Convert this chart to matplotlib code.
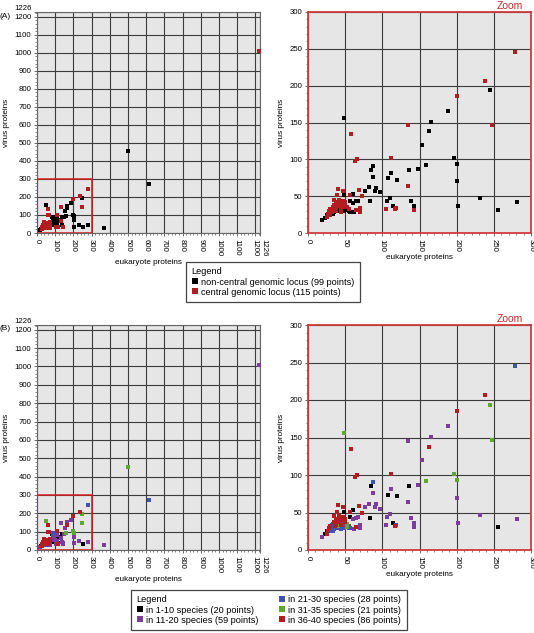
import numpy as np
import matplotlib
matplotlib.use('Agg')
import matplotlib.pyplot as plt
from matplotlib.lines import Line2D
from matplotlib.patches import Rectangle
from matplotlib.ticker import MultipleLocator

plt.rcParams['font.family'] = ['Liberation Sans', 'DejaVu Sans']

# points: eukaryote proteins, virus proteins, locus (0 non-central, 1 central),
# species group (0: 1-10, 1: 11-20, 2: 21-30, 3: 31-35, 4: 36-40)
euk = [503, 618, 367, 1221, 278, 238, 245, 200, 189, 166, 134, 247, 163, 154, 112, 196,
       159, 201, 136, 148, 112, 108, 120, 201, 134, 97, 110, 106, 232, 281, 138, 114,
       118, 117, 105, 143, 142, 202, 255, 49, 58, 63, 66, 88, 85, 87, 82, 77,
       92, 90, 83, 41, 47, 39, 69, 61, 56, 72, 49, 57, 60, 65, 67, 62,
       56, 46, 65, 70, 70, 25, 23, 26, 19, 30, 33, 35, 37, 40, 42, 44,
       46, 48, 38, 32, 28, 35, 42, 50, 52, 55, 45, 27, 30, 32, 34, 36,
       38, 35, 40, 42, 30, 28, 37, 44, 33, 39, 48, 52, 55, 36, 40, 43,
       38, 47, 50, 36, 41, 34, 31, 45]
vir = [453, 272, 28, 1009, 246, 207, 194, 186, 166, 151, 146, 147, 138, 120, 102, 102,
       92, 93, 86, 87, 82, 74, 72, 70, 64, 55, 48, 44, 47, 42, 43, 36,
       34, 32, 33, 36, 31, 36, 31, 156, 135, 98, 100, 91, 86, 76, 62, 57,
       61, 57, 43, 60, 57, 51, 59, 53, 51, 50, 51, 44, 41, 43, 44, 28,
       29, 31, 31, 29, 34, 22, 21, 25, 17, 32, 35, 38, 40, 42, 38, 36,
       40, 35, 30, 28, 30, 45, 45, 38, 35, 32, 28, 26, 25, 33, 30, 34,
       36, 28, 32, 30, 29, 27, 31, 33, 26, 35, 30, 31, 30, 37, 38, 41,
       33, 44, 42, 32, 36, 33, 30, 33]
locus = [0, 0, 0, 1, 1, 1, 0, 1, 0, 0, 1, 1, 0, 0, 1, 0,
         0, 0, 0, 0, 0, 0, 0, 0, 1, 0, 0, 0, 0, 0, 0, 0,
         1, 1, 1, 0, 1, 0, 0, 0, 1, 1, 1, 0, 0, 0, 0, 0,
         0, 0, 0, 1, 1, 1, 1, 0, 1, 1, 0, 0, 0, 0, 0, 0,
         0, 0, 1, 1, 1, 1, 0, 0, 0, 1, 1, 1, 1, 1, 1, 1,
         1, 1, 1, 1, 1, 1, 1, 1, 1, 1, 1, 1, 1, 0, 0, 0,
         0, 0, 0, 0, 0, 0, 0, 0, 0, 0, 0, 0, 0, 0, 1, 1,
         1, 1, 1, 1, 1, 1, 1, 1]
species = [3, 2, 1, 1, 2, 4, 3, 4, 1, 1, 1, 3, 4, 1, 4, 3,
           3, 3, 0, 1, 1, 0, 0, 1, 1, 1, 1, 1, 1, 1, 1, 0,
           2, 4, 1, 1, 1, 1, 0, 3, 4, 4, 4, 2, 0, 1, 1, 1,
           1, 1, 0, 4, 4, 4, 4, 0, 4, 4, 0, 0, 1, 1, 1, 1,
           2, 2, 4, 1, 1, 4, 0, 0, 1, 4, 2, 4, 4, 4, 4, 2,
           4, 1, 2, 2, 4, 4, 4, 4, 3, 1, 2, 4, 2, 2, 2, 1,
           2, 1, 3, 1, 2, 0, 2, 1, 2, 2, 1, 3, 1, 2, 4, 4,
           4, 4, 4, 4, 2, 2, 2, 4]

locus_labels = ['non-central genomic locus (99 points)', 'central genomic locus (115 points)']
locus_colors = ['#000000', '#b31d22']
species_labels = ['in 1-10 species (20 points)', 'in 11-20 species (59 points)',
                  'in 21-30 species (28 points)', 'in 31-35 species (21 points)',
                  'in 36-40 species (86 points)']
species_colors = ['#000000', '#7a3d9c', '#4152b0', '#5ea832', '#b31d22']
species_order = [0, 1, 2, 3, 4]

euk = np.array(euk)
vir = np.array(vir)
locus = np.array(locus)
species = np.array(species)

W, H = 534, 633
fig = plt.figure(figsize=(W / 100, H / 100), dpi=100)
FS = 5.6
LFS = 6.6
GRID = '#3c3c3c'
ZRED = '#d23a3a'


def fig_axes(x0, y0, x1, y1):
    return fig.add_axes([x0 / W, 1 - y1 / H, (x1 - x0) / W, (y1 - y0) / H])


def style(ax, lim, major, minor):
    ax.set_facecolor('#e6e6e6')
    ax.set_xlim(0, lim)
    ax.set_ylim(0, lim)
    ax.set_xticks(major)
    ax.set_yticks(major)
    ax.set_xticklabels([str(t) for t in major], rotation=-90)
    ax.xaxis.set_minor_locator(MultipleLocator(minor))
    ax.yaxis.set_minor_locator(MultipleLocator(minor))
    ax.tick_params(which='major', labelsize=FS, length=2.5, width=0.6, pad=1.5, color='#555555')
    ax.tick_params(which='minor', length=1.5, width=0.5, color='#555555')
    ax.grid(True, which='major', color=GRID, lw=0.8)
    ax.set_axisbelow(True)
    ax.set_xlabel('eukaryote proteins', fontsize=FS + 0.3, labelpad=2)
    ax.set_ylabel('virus proteins', fontsize=FS + 0.3, labelpad=3)


def scatter(ax, cats, colors, order):
    for c in order:
        m = cats == c
        ax.scatter(euk[m], vir[m], s=7, marker='s', color=colors[c], linewidths=0, zorder=3,
                   clip_on=False)


full_ticks = list(range(0, 1201, 100)) + [1226]
zoom_ticks = list(range(0, 301, 50))

panels = [
    (12, 233, locus, locus_colors, [0, 1], '(A)'),
    (325, 550, species, species_colors, species_order, '(B)'),
]
for top, bottom, cats, colors, order, tag in panels:
    ax = fig_axes(37, top, 260, bottom)
    style(ax, 1226, full_ticks, 20)
    # the end value 1226 sits right next to 1200: nudge the two labels apart
    xl = ax.get_xticklabels()
    yl = ax.get_yticklabels()
    xl[-1].set_ha('left')
    yl[-1].set_va('bottom')
    for s in ax.spines.values():
        s.set_color('#666666')
        s.set_linewidth(0.8)
    ax.add_patch(Rectangle((0, 0), 300, 300, fill=False, ec='#d42020', lw=1.1, zorder=4))
    scatter(ax, cats, colors, order)
    fig.text(0, 1 - (top + 4) / H, tag, fontsize=6, va='center', ha='left')

    az = fig_axes(308, top, 531, bottom)
    style(az, 300, zoom_ticks, 10)
    for s in az.spines.values():
        s.set_color(ZRED)
        s.set_linewidth(1.3)
    scatter(az, cats, colors, order)
    fig.text(523 / W, 1 - (top - 6) / H, 'Zoom', fontsize=7.5, color='#c42a2a',
             ha='right', va='center')

# legend A
hA = [Line2D([], [], ls='', marker='s', ms=4, mew=0, color=c) for c in locus_colors]
legA = fig.legend(hA, locus_labels, loc='upper left', bbox_to_anchor=(186 / W, 1 - 262 / H),
                  title='Legend', alignment='left', fontsize=LFS, title_fontsize=LFS,
                  fancybox=False, edgecolor='#444444', framealpha=1, handlelength=0.7,
                  handletextpad=0.35, borderpad=0.6, labelspacing=0.12, borderaxespad=0)
legA.get_frame().set_linewidth(0.9)

# legend B (title sits in the first column)
blank = Line2D([], [], ls='', marker='')
hB = [blank] + [Line2D([], [], ls='', marker='s', ms=4, mew=0, color=species_colors[i])
                for i in range(5)]
lB = ['Legend'] + species_labels
legB = fig.legend(hB, lB, loc='upper left', bbox_to_anchor=(131 / W, 1 - 590 / H), ncol=2,
                  fontsize=LFS, fancybox=False, edgecolor='#444444', framealpha=1,
                  handlelength=0.7, handletextpad=0.35, borderpad=0.6, labelspacing=0.12,
                  columnspacing=2.2, borderaxespad=0)
legB.get_frame().set_linewidth(0.9)
shift = (0.7 + 0.35) * LFS * 100 / 72
legB.get_texts()[0].set_x(-shift)

fig.savefig('out.png', dpi=100)
